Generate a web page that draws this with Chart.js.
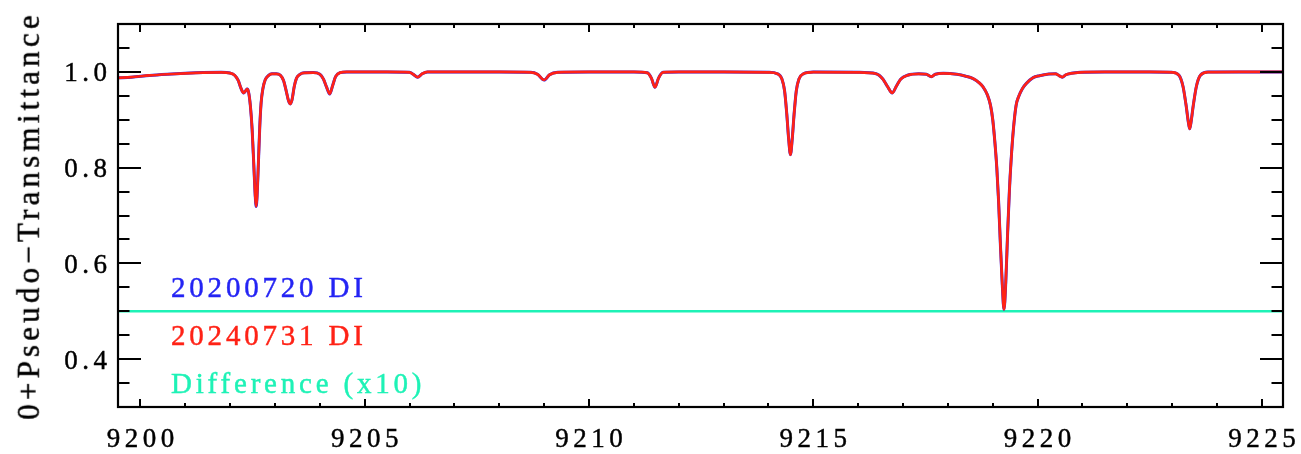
<!DOCTYPE html>
<html>
<head>
<meta charset="utf-8">
<script src="https://cdn.jsdelivr.net/npm/chart.js@4/dist/chart.umd.min.js"></script>
<style>
  html, body { margin: 0; padding: 0; background: #ffffff; }
  #wrap { width: 1301px; height: 454px; position: relative; overflow: hidden; }
  #c { position: absolute; left: 0; top: 0; }
  .lbl { position: absolute; white-space: nowrap; font-family: "Liberation Serif", serif; line-height: 1; color: #000; -webkit-text-stroke: 0.45px currentColor; }
</style>
</head>
<body>
<div id="wrap"><canvas id="c" width="1301" height="454"></canvas></div>
<script>
// ---- data ----
const wavelength = [
  9199.50, 9199.80, 9200.20, 9200.60, 9201.00, 9201.40, 9201.80, 9202.00, 9202.10, 9202.18,
  9202.24, 9202.30, 9202.35, 9202.38, 9202.41, 9202.45, 9202.49, 9202.53, 9202.56, 9202.58,
  9202.60, 9202.63, 9202.66, 9202.69, 9202.73, 9202.78, 9202.85, 9202.93, 9203.03, 9203.12,
  9203.19, 9203.25, 9203.30, 9203.34, 9203.38, 9203.43, 9203.48, 9203.56, 9203.65, 9203.85,
  9204.00, 9204.08, 9204.15, 9204.22, 9204.28, 9204.35, 9204.45, 9204.60, 9205.50, 9206.00,
  9206.08, 9206.18, 9206.28, 9206.40, 9207.00, 9208.00, 9208.70, 9208.85, 9209.00, 9209.12,
  9209.30, 9210.00, 9211.00, 9211.30, 9211.39, 9211.47, 9211.55, 9211.65, 9212.00, 9213.00,
  9214.00, 9214.20, 9214.30, 9214.36, 9214.41, 9214.45, 9214.49, 9214.53, 9214.57, 9214.62,
  9214.68, 9214.78, 9215.00, 9216.00, 9216.40, 9216.55, 9216.65, 9216.76, 9216.85, 9216.95,
  9217.10, 9217.35, 9217.52, 9217.63, 9217.72, 9217.90, 9218.20, 9218.40, 9218.56, 9218.70,
  9218.78, 9218.88, 9218.95, 9219.00, 9219.05, 9219.09, 9219.13, 9219.17, 9219.21, 9219.25,
  9219.29, 9219.33, 9219.37, 9219.41, 9219.46, 9219.52, 9219.58, 9219.66, 9219.75, 9219.90,
  9220.04, 9220.25, 9220.40, 9220.48, 9220.55, 9220.63, 9220.75, 9220.95, 9221.50, 9222.50,
  9223.00, 9223.15, 9223.24, 9223.31, 9223.36, 9223.39, 9223.42, 9223.47, 9223.54, 9223.63,
  9223.80, 9224.50, 9225.47
];
const flux20200720 = [
  0.9875, 0.9890, 0.9925, 0.9950, 0.9970, 0.9985, 0.9990, 0.9975, 0.9930, 0.9820,
  0.9660, 0.9560, 0.9610, 0.9640, 0.9580, 0.9300, 0.8800, 0.8000, 0.7400, 0.7190,
  0.7400, 0.8100, 0.8850, 0.9350, 0.9650, 0.9830, 0.9920, 0.9960, 0.9960, 0.9930,
  0.9820, 0.9600, 0.9400, 0.9330, 0.9420, 0.9700, 0.9870, 0.9950, 0.9980, 0.9985,
  0.9950, 0.9850, 0.9680, 0.9540, 0.9700, 0.9900, 0.9985, 1.0000, 1.0000, 0.9990,
  0.9950, 0.9890, 0.9960, 1.0000, 1.0000, 1.0000, 0.9990, 0.9950, 0.9830, 0.9940,
  0.9990, 1.0000, 1.0000, 0.9980, 0.9870, 0.9680, 0.9870, 0.9990, 1.0000, 1.0000,
  0.9990, 0.9960, 0.9850, 0.9600, 0.9100, 0.8600, 0.8270, 0.8600, 0.9100, 0.9600,
  0.9850, 0.9960, 0.9995, 0.9990, 0.9960, 0.9850, 0.9700, 0.9560, 0.9700, 0.9850,
  0.9930, 0.9960, 0.9950, 0.9900, 0.9950, 0.9970, 0.9950, 0.9910, 0.9860, 0.9770,
  0.9690, 0.9520, 0.9300, 0.9000, 0.8500, 0.8000, 0.7300, 0.6400, 0.5600, 0.5040,
  0.5600, 0.6600, 0.7500, 0.8170, 0.8800, 0.9300, 0.9490, 0.9650, 0.9760, 0.9880,
  0.9920, 0.9955, 0.9960, 0.9920, 0.9890, 0.9940, 0.9970, 0.9990, 1.0000, 1.0000,
  0.9990, 0.9930, 0.9700, 0.9300, 0.8950, 0.8810, 0.8950, 0.9300, 0.9700, 0.9930,
  0.9995, 1.0000, 1.0000
];
const flux20240731 = [
  0.9875, 0.9890, 0.9925, 0.9950, 0.9970, 0.9985, 0.9990, 0.9975, 0.9930, 0.9820,
  0.9660, 0.9560, 0.9610, 0.9640, 0.9580, 0.9300, 0.8800, 0.8000, 0.7400, 0.7190,
  0.7400, 0.8100, 0.8850, 0.9350, 0.9650, 0.9830, 0.9920, 0.9960, 0.9960, 0.9930,
  0.9820, 0.9600, 0.9400, 0.9330, 0.9420, 0.9700, 0.9870, 0.9950, 0.9980, 0.9985,
  0.9950, 0.9850, 0.9680, 0.9540, 0.9700, 0.9900, 0.9985, 1.0000, 1.0000, 0.9990,
  0.9950, 0.9890, 0.9960, 1.0000, 1.0000, 1.0000, 0.9990, 0.9950, 0.9830, 0.9940,
  0.9990, 1.0000, 1.0000, 0.9980, 0.9870, 0.9680, 0.9870, 0.9990, 1.0000, 1.0000,
  0.9990, 0.9960, 0.9850, 0.9600, 0.9100, 0.8600, 0.8270, 0.8600, 0.9100, 0.9600,
  0.9850, 0.9960, 0.9995, 0.9990, 0.9960, 0.9850, 0.9700, 0.9560, 0.9700, 0.9850,
  0.9930, 0.9960, 0.9950, 0.9900, 0.9950, 0.9970, 0.9950, 0.9910, 0.9860, 0.9770,
  0.9690, 0.9520, 0.9300, 0.9000, 0.8500, 0.8000, 0.7300, 0.6400, 0.5600, 0.5040,
  0.5600, 0.6600, 0.7500, 0.8170, 0.8800, 0.9300, 0.9490, 0.9650, 0.9760, 0.9880,
  0.9920, 0.9955, 0.9960, 0.9920, 0.9890, 0.9940, 0.9970, 0.9990, 1.0000, 1.0000,
  0.9990, 0.9930, 0.9700, 0.9300, 0.8950, 0.8810, 0.8950, 0.9300, 0.9700, 0.9930,
  0.9995, 1.0000, 1.0000
];
const diffWavelength = [9199.50, 9205.00, 9210.00, 9215.00, 9220.00, 9225.47];
const diffTimes10 = [0.500, 0.500, 0.500, 0.500, 0.500, 0.500];

const xMajorTicks = [9200, 9205, 9210, 9215, 9220, 9225];
const xTickLabels = ['9200', '9205', '9210', '9215', '9220', '9225'];
const xMinorTicks = [9200, 9201, 9202, 9203, 9204, 9205, 9206, 9207, 9208, 9209, 9210, 9211, 9212,
                     9213, 9214, 9215, 9216, 9217, 9218, 9219, 9220, 9221, 9222, 9223, 9224, 9225];
const yMajorTicks = [0.4, 0.6, 0.8, 1.0];
const yTickLabels = ['0.4', '0.6', '0.8', '1.0'];
const yMinorTicks = [0.35, 0.4, 0.45, 0.5, 0.55, 0.6, 0.65, 0.7, 0.75, 0.8, 0.85, 0.9, 0.95, 1.0, 1.05];
const legendLabels = ['20200720 DI', '20240731 DI', 'Difference (x10)'];
const yTitle = '0+Pseudo\u2212Transmittance';

// ---- styling ----
const BLUE = '#2424f4';
const RED = '#ff2216';
const CYAN = '#1ef2b6';
const ASC = 0.8375; // baseline offset (em) of Liberation Serif with line-height 1

function pts(xs, ys) { return xs.map((v, i) => ({ x: v, y: ys[i] })); }

const wrap = document.getElementById('wrap');
function addLabel(text, size, ls, color) {
  const d = document.createElement('div');
  d.className = 'lbl';
  d.textContent = text;
  d.style.fontSize = size + 'px';
  d.style.letterSpacing = ls + 'px';
  d.style.color = color;
  wrap.appendChild(d);
  return d;
}

const idlFrame = {
  id: 'idlFrame',
  afterDraw(chart) {
    const ctx = chart.ctx;
    const a = chart.chartArea;
    const xs = chart.scales.x, ys = chart.scales.y;
    ctx.save();
    ctx.strokeStyle = '#000';
    ctx.lineCap = 'butt';
    ctx.lineWidth = 2;
    const xMaj = 8, xMin = 4, yMaj = 23, yMin = 11.5;
    ctx.beginPath();
    xMinorTicks.forEach(v => {
      const px = Math.round(xs.getPixelForValue(v));
      const len = xMajorTicks.includes(v) ? xMaj : xMin;
      ctx.moveTo(px, a.bottom); ctx.lineTo(px, a.bottom - len);
      ctx.moveTo(px, a.top); ctx.lineTo(px, a.top + len);
    });
    yMinorTicks.forEach(v => {
      const py = Math.round(ys.getPixelForValue(v));
      const isMaj = yMajorTicks.some(m => Math.abs(m - v) < 1e-9);
      const len = isMaj ? yMaj : yMin;
      ctx.moveTo(a.left, py); ctx.lineTo(a.left + len, py);
      ctx.moveTo(a.right, py); ctx.lineTo(a.right - len, py);
    });
    ctx.stroke();
    ctx.lineWidth = 2.2;
    ctx.strokeRect(a.left, a.top, a.right - a.left, a.bottom - a.top);
    ctx.restore();

    if (chart._labelsMade) return;
    chart._labelsMade = true;

    const tSize = 27, tLs = 4.5;
    xMajorTicks.forEach((v, i) => {
      const d = addLabel(xTickLabels[i], tSize, tLs, '#000');
      const w = d.getBoundingClientRect().width - tLs;
      d.style.left = (xs.getPixelForValue(v) - w / 2) + 'px';
      d.style.top = (448 - ASC * tSize) + 'px';
    });
    yMajorTicks.forEach((v, i) => {
      const d = addLabel(yTickLabels[i], tSize, tLs, '#000');
      const w = d.getBoundingClientRect().width - tLs;
      d.style.left = (107 - w) + 'px';
      d.style.top = (ys.getPixelForValue(v) + 10 - ASC * tSize) + 'px';
    });

    const hSize = 31, hLs = 4.2;
    const t = addLabel(yTitle, hSize, hLs, '#000');
    const tw = t.getBoundingClientRect().width - hLs;
    const cx = 37 - (ASC - 0.5) * hSize;
    const cy = (a.top + a.bottom) / 2;
    t.style.width = tw + hLs + 'px';
    t.style.height = hSize + 'px';
    t.style.left = (cx - (tw + hLs) / 2 + hLs / 2) + 'px';
    t.style.top = (cy - hSize / 2) + 'px';
    t.style.transform = 'rotate(-90deg)';
    t.style.transformOrigin = '50% 50%';

    const lSize = 29, lLs = 3.8;
    const cols = [BLUE, RED, CYAN];
    const base = [297, 345, 393];
    legendLabels.forEach((txt, i) => {
      const d = addLabel(txt, lSize, lLs, cols[i]);
      d.style.left = '171px';
      d.style.top = (base[i] - ASC * lSize) + 'px';
    });
  }
};

new Chart(document.getElementById('c'), {
  type: 'line',
  data: {
    datasets: [
      { label: legendLabels[0], data: pts(wavelength, flux20200720), borderColor: BLUE, borderWidth: 3.0, order: 2 },
      { label: legendLabels[1], data: pts(wavelength, flux20240731), borderColor: RED, borderWidth: 2.7, order: 1 },
      { label: legendLabels[2], data: pts(diffWavelength, diffTimes10), borderColor: CYAN, borderWidth: 2.4, order: 3 }
    ]
  },
  options: {
    responsive: false,
    animation: false,
    devicePixelRatio: 1,
    layout: { padding: { left: 0, top: 24, right: 18, bottom: 0 } },
    elements: {
      point: { radius: 0, hoverRadius: 0 },
      line: { tension: 0, cubicInterpolationMode: 'monotone', borderJoinStyle: 'round', borderCapStyle: 'round', fill: false }
    },
    plugins: { legend: { display: false }, tooltip: { enabled: false } },
    events: [],
    scales: {
      x: {
        type: 'linear', min: 9199.5, max: 9225.47,
        grid: { display: false, drawTicks: false }, border: { display: false },
        ticks: { display: false },
        afterFit(s) { s.height = 47; }
      },
      y: {
        type: 'linear', min: 0.3, max: 1.1,
        grid: { display: false, drawTicks: false }, border: { display: false },
        ticks: { display: false },
        afterFit(s) { s.width = 118; }
      }
    }
  },
  plugins: [idlFrame]
});
</script>
</body>
</html>
